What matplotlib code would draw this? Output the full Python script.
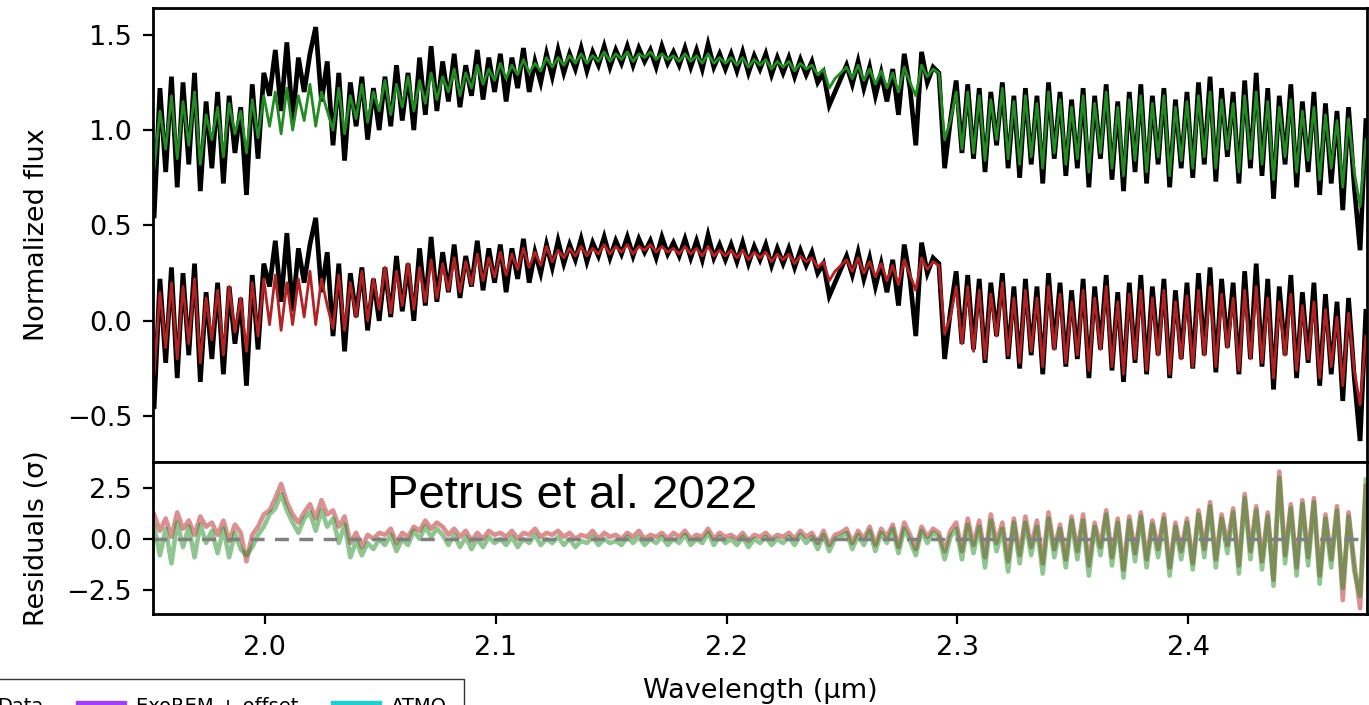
import numpy as np
import matplotlib.pyplot as plt
from matplotlib.lines import Line2D

# -------------------------
#  spectrum (grid step 0.0025 um)
# -------------------------
WAVE_MIN = 1.952
WAVE_MAX = 2.477
N_PTS = 211
OFFSET = 1.0

# observed spectrum (normalized flux)
flux_data = [
    0.55, 1.22, 0.78, 1.28, 0.70, 1.25, 0.82, 1.30, 0.68, 1.15,
    0.80, 1.20, 0.72, 1.18, 0.88, 1.12, 0.66, 1.24, 0.85, 1.30,
    1.18, 1.42, 1.10, 1.46, 1.05, 1.38, 1.20, 1.40, 1.54, 1.15,
    1.36, 0.92, 1.30, 0.84, 1.25, 1.02, 1.28, 0.95, 1.22, 1.00,
    1.28, 1.02, 1.34, 1.05, 1.30, 1.00, 1.38, 1.08, 1.44, 1.10,
    1.36, 1.15, 1.40, 1.12, 1.34, 1.18, 1.42, 1.16, 1.38, 1.20,
    1.40, 1.15, 1.38, 1.22, 1.43, 1.20, 1.36, 1.25, 1.40, 1.28,
    1.42, 1.30, 1.40, 1.32, 1.43, 1.31, 1.41, 1.34, 1.44, 1.33,
    1.42, 1.35, 1.44, 1.34, 1.43, 1.36, 1.42, 1.33, 1.44, 1.35,
    1.41, 1.34, 1.43, 1.33, 1.42, 1.32, 1.45, 1.33, 1.40, 1.32,
    1.40, 1.31, 1.41, 1.30, 1.39, 1.32, 1.40, 1.29, 1.38, 1.30,
    1.38, 1.28, 1.37, 1.29, 1.36, 1.25, 1.30, 1.13, 1.20, 1.27,
    1.34, 1.24, 1.36, 1.22, 1.33, 1.18, 1.30, 1.15, 1.32, 1.08,
    1.40, 1.22, 0.92, 1.41, 1.25, 1.33, 1.30, 0.80, 1.05, 1.26,
    0.88, 1.24, 0.85, 1.22, 0.78, 1.20, 0.92, 1.25, 0.80, 1.18,
    0.75, 1.22, 0.82, 1.18, 0.72, 1.25, 0.85, 1.20, 0.76, 1.16,
    0.80, 1.22, 0.70, 1.18, 0.85, 1.24, 0.74, 1.15, 0.68, 1.20,
    0.78, 1.24, 0.72, 1.18, 0.82, 1.22, 0.70, 1.16, 0.80, 1.20,
    0.75, 1.25, 0.82, 1.28, 0.73, 1.22, 0.86, 1.20, 0.72, 1.26,
    0.80, 1.30, 0.76, 1.22, 0.64, 1.18, 0.82, 1.24, 0.70, 1.15,
    0.78, 1.20, 0.66, 1.14, 0.72, 1.10, 0.58, 1.12, 0.70, 0.37,
    1.05,
]

# best-fit model 1 (green)
flux_green = [
    0.80, 1.10, 0.90, 1.18, 0.85, 1.15, 0.92, 1.20, 0.82, 1.08,
    0.95, 1.12, 0.86, 1.14, 0.98, 1.10, 0.88, 1.16, 0.96, 1.18,
    1.02, 1.20, 0.98, 1.22, 1.00, 1.18, 1.05, 1.24, 1.02, 1.20,
    1.10, 1.00, 1.22, 0.98, 1.18, 1.06, 1.24, 1.04, 1.20, 1.10,
    1.26, 1.08, 1.24, 1.12, 1.28, 1.10, 1.26, 1.14, 1.30, 1.16,
    1.28, 1.20, 1.32, 1.18, 1.30, 1.22, 1.34, 1.24, 1.32, 1.26,
    1.35, 1.27, 1.34, 1.29, 1.37, 1.30, 1.35, 1.31, 1.38, 1.33,
    1.38, 1.34, 1.39, 1.35, 1.40, 1.35, 1.39, 1.36, 1.41, 1.36,
    1.40, 1.37, 1.41, 1.36, 1.40, 1.38, 1.41, 1.37, 1.40, 1.37,
    1.39, 1.36, 1.40, 1.36, 1.39, 1.35, 1.40, 1.35, 1.38, 1.35,
    1.38, 1.34, 1.38, 1.33, 1.37, 1.34, 1.37, 1.32, 1.36, 1.33,
    1.36, 1.31, 1.35, 1.32, 1.34, 1.29, 1.32, 1.22, 1.27, 1.30,
    1.33, 1.27, 1.34, 1.26, 1.32, 1.24, 1.31, 1.22, 1.30, 1.20,
    1.33, 1.25, 1.18, 1.34, 1.28, 1.32, 1.30, 0.95, 1.05, 1.20,
    0.90, 1.20, 0.88, 1.18, 0.84, 1.16, 0.95, 1.22, 0.85, 1.15,
    0.82, 1.18, 0.86, 1.14, 0.80, 1.20, 0.88, 1.16, 0.82, 1.12,
    0.85, 1.18, 0.78, 1.14, 0.88, 1.20, 0.80, 1.12, 0.76, 1.16,
    0.84, 1.18, 0.78, 1.14, 0.86, 1.18, 0.76, 1.12, 0.84, 1.15,
    0.80, 1.18, 0.86, 1.20, 0.80, 1.16, 0.90, 1.14, 0.78, 1.18,
    0.85, 1.20, 0.82, 1.15, 0.74, 1.12, 0.86, 1.16, 0.78, 1.10,
    0.84, 1.12, 0.74, 1.08, 0.80, 1.05, 0.70, 1.06, 0.78, 0.60,
    0.95,
]

# best-fit model 2 (red, shown with offset)
flux_red = [
    0.72, 1.15, 0.86, 1.20, 0.80, 1.18, 0.88, 1.22, 0.78, 1.12,
    0.90, 1.16, 0.82, 1.18, 0.94, 1.12, 0.84, 1.20, 0.92, 1.22,
    0.98, 1.24, 0.95, 1.20, 0.98, 1.22, 1.02, 1.26, 0.98, 1.22,
    1.08, 0.96, 1.24, 0.95, 1.20, 1.02, 1.26, 1.00, 1.22, 1.06,
    1.28, 1.04, 1.26, 1.08, 1.30, 1.06, 1.28, 1.10, 1.32, 1.12,
    1.30, 1.16, 1.33, 1.15, 1.31, 1.19, 1.35, 1.21, 1.33, 1.23,
    1.36, 1.24, 1.35, 1.27, 1.38, 1.28, 1.36, 1.29, 1.39, 1.31,
    1.37, 1.33, 1.38, 1.34, 1.39, 1.34, 1.38, 1.35, 1.40, 1.35,
    1.39, 1.36, 1.40, 1.35, 1.39, 1.37, 1.40, 1.36, 1.39, 1.36,
    1.38, 1.35, 1.39, 1.35, 1.38, 1.34, 1.39, 1.34, 1.37, 1.34,
    1.37, 1.33, 1.37, 1.32, 1.36, 1.33, 1.36, 1.31, 1.35, 1.32,
    1.35, 1.30, 1.34, 1.31, 1.33, 1.28, 1.31, 1.21, 1.26, 1.29,
    1.32, 1.26, 1.33, 1.25, 1.31, 1.23, 1.30, 1.21, 1.29, 1.19,
    1.32, 1.24, 1.16, 1.33, 1.27, 1.31, 1.29, 0.93, 1.02, 1.18,
    0.88, 1.18, 0.84, 1.16, 0.80, 1.14, 0.92, 1.20, 0.82, 1.12,
    0.78, 1.16, 0.84, 1.12, 0.76, 1.18, 0.85, 1.14, 0.78, 1.10,
    0.82, 1.16, 0.74, 1.12, 0.85, 1.18, 0.76, 1.10, 0.72, 1.14,
    0.80, 1.16, 0.74, 1.12, 0.82, 1.16, 0.72, 1.10, 0.80, 1.13,
    0.76, 1.16, 0.82, 1.18, 0.76, 1.14, 0.86, 1.12, 0.74, 1.16,
    0.80, 1.18, 0.78, 1.12, 0.70, 1.10, 0.82, 1.14, 0.74, 1.08,
    0.80, 1.10, 0.70, 1.06, 0.76, 1.02, 0.66, 1.04, 0.74, 0.56,
    0.92,
]

# residuals in sigma
res_red = [
    1.2, 0.4, 1.0, 0.1, 1.3, 0.5, 0.9, 0.2, 1.1, 0.6,
    0.8, 0.2, 0.9, -0.1, 0.7, 0.3, -1.1, 0.2, 0.6, 1.2,
    1.4, 2.0, 2.7, 1.8, 1.2, 0.8, 1.3, 1.7, 1.0, 1.9,
    1.2, 1.4, 0.6, 1.1, -0.2, 0.3, -0.4, 0.2, 0.0, 0.3,
    0.2, 0.5, -0.2, 0.3, 0.1, 0.6, 0.4, 0.9, 0.5, 0.8,
    0.6, 0.2, 0.5, 0.1, 0.4, -0.1, 0.3, 0.0, 0.4, 0.2,
    0.3, 0.1, 0.4, 0.0, 0.3, 0.2, 0.5, 0.1, 0.3, 0.2,
    0.4, 0.1, 0.3, 0.0, 0.2, 0.1, 0.4, 0.0, 0.3, 0.1,
    0.2, 0.0, 0.3, 0.1, 0.4, 0.0, 0.2, 0.1, 0.3, 0.0,
    0.3, 0.1, 0.4, 0.0, 0.2, 0.1, 0.5, 0.0, 0.3, 0.1,
    0.2, 0.0, 0.3, -0.1, 0.2, 0.1, 0.3, 0.0, 0.2, 0.1,
    0.3, 0.0, 0.4, 0.1, 0.3, -0.2, 0.4, -0.3, 0.2, 0.3,
    0.5, -0.2, 0.4, 0.0, 0.6, -0.3, 0.5, 0.1, 0.7, -0.4,
    0.8, 0.2, -0.5, 0.6, 0.1, 0.5, 0.3, -0.6, 0.4, 0.8,
    -0.6, 1.0, -0.3, 0.9, -0.9, 1.2, -0.2, 0.8, -1.1, 1.0,
    -0.8, 1.1, -0.4, 0.9, -1.2, 1.3, -0.5, 0.7, -1.0, 1.1,
    -0.6, 1.2, -1.3, 0.8, -0.4, 1.4, -0.9, 1.0, -1.5, 1.1,
    -0.7, 1.3, -1.0, 0.9, -0.5, 1.2, -1.4, 0.8, -0.6, 1.0,
    -1.2, 1.4, -0.5, 1.8, -1.0, 1.2, -0.3, 1.5, -1.3, 2.2,
    -0.6, 1.6, -1.1, 1.3, -2.0, 3.3, -0.8, 1.7, -1.4, 1.9,
    -0.9, 2.0, -1.8, 1.2, -1.0, 1.6, -3.0, 1.3, -1.2, -3.4,
    2.6,
]

res_green = [
    0.6, -0.8, 0.5, -1.2, 0.8, -0.4, 0.6, -0.9, 0.7, -0.2,
    0.4, -0.7, 0.5, -0.9, 0.3, -0.5, -0.8, -0.4, 0.2, 0.6,
    1.2, 1.5, 2.2, 1.4, 0.8, 0.3, 1.0, 1.3, 0.4, 1.4,
    0.6, 1.0, -0.2, 0.7, -0.9, -0.1, -0.8, -0.2, -0.5, 0.0,
    -0.3, 0.2, -0.6, 0.0, -0.3, 0.4, 0.0, 0.6, 0.1, 0.5,
    0.2, -0.3, 0.2, -0.4, 0.1, -0.5, 0.0, -0.4, 0.1, -0.2,
    0.0, -0.3, 0.1, -0.4, 0.0, -0.2, 0.2, -0.3, 0.0, -0.2,
    0.1, -0.3, 0.0, -0.4, -0.1, -0.2, 0.1, -0.3, 0.0, -0.2,
    -0.1, -0.3, 0.1, -0.2, 0.1, -0.3, 0.0, -0.2, 0.1, -0.3,
    0.0, -0.2, 0.2, -0.3, 0.0, -0.2, 0.3, -0.3, 0.1, -0.2,
    0.0, -0.3, 0.1, -0.4, 0.0, -0.2, 0.1, -0.3, 0.0, -0.2,
    0.1, -0.3, 0.2, -0.2, 0.1, -0.5, 0.2, -0.6, 0.0, 0.1,
    0.3, -0.5, 0.2, -0.3, 0.4, -0.6, 0.3, -0.2, 0.5, -0.7,
    0.5, -0.1, -0.8, 0.4, -0.2, 0.3, 0.1, -1.0, 0.1, 0.5,
    -1.0, 0.7, -0.7, 0.6, -1.4, 0.9, -0.6, 0.5, -1.6, 0.8,
    -1.2, 0.8, -0.8, 0.6, -1.7, 1.0, -0.9, 0.5, -1.4, 0.9,
    -1.0, 0.9, -1.8, 0.6, -0.8, 1.2, -1.3, 0.8, -1.9, 0.9,
    -1.1, 1.1, -1.4, 0.7, -0.9, 1.0, -1.8, 0.6, -1.0, 0.8,
    -1.5, 1.2, -0.9, 1.6, -1.4, 1.0, -0.7, 1.3, -1.7, 2.0,
    -1.0, 1.4, -1.5, 1.1, -2.3, 3.0, -1.2, 1.5, -1.8, 1.7,
    -1.3, 1.8, -2.2, 1.0, -1.4, 1.4, -2.4, 1.1, -1.6, -2.8,
    2.9,
]

wave = np.linspace(WAVE_MIN, WAVE_MAX, N_PTS)
flux_data = np.array(flux_data)
flux_green = np.array(flux_green)
flux_red = np.array(flux_red)
res_red = np.array(res_red)
res_green = np.array(res_green)

# -------------------------
#  figure
# -------------------------
W, H = 1369, 705
fig = plt.figure(figsize=(W / 100, H / 100), dpi=100)

x0, x1 = 153 / W, 1367 / W
ax1 = fig.add_axes([x0, 1 - 462 / H, x1 - x0, (462 - 8) / H])
ax2 = fig.add_axes([x0, 1 - 614 / H, x1 - x0, (614 - 462) / H], sharex=ax1)

# top: spectra
ax1.plot(wave, flux_data, color="black", lw=3.4, solid_joinstyle="miter")
ax1.plot(wave, flux_green, color="forestgreen", lw=2.0)
ax1.plot(wave, flux_data - OFFSET, color="black", lw=3.4, solid_joinstyle="miter")
ax1.plot(wave, flux_red - OFFSET, color="firebrick", lw=2.0)
ax1.set_ylim(-0.74, 1.64)
ax1.set_yticks([-0.5, 0.0, 0.5, 1.0, 1.5])
ax1.set_ylabel("Normalized flux", fontsize=19.5)
ax1.tick_params(axis="x", which="both", bottom=False, labelbottom=False)

# bottom: residuals
ax2.plot(wave, res_red, color="firebrick", lw=3.3, alpha=0.5)
ax2.plot(wave, res_green, color="forestgreen", lw=3.3, alpha=0.5)
ax2.axhline(0.0, color="gray", lw=2.5, ls=(0, (4, 3)))
ax2.set_ylim(-3.68, 3.77)
ax2.set_yticks([-2.5, 0.0, 2.5])
ax2.set_xlim(1.9515, 2.4775)
ax2.set_xticks([2.0, 2.1, 2.2, 2.3, 2.4])
ax2.set_ylabel("Residuals (σ)", fontsize=19.5)
ax2.set_xlabel("Wavelength (µm)", fontsize=19.5, labelpad=12)

for ax in (ax1, ax2):
    for sp in ax.spines.values():
        sp.set_linewidth(2.0)
    ax.tick_params(labelsize=19.5, width=1.6, length=7, pad=8)
    ax.yaxis.set_label_coords(-0.085, 0.5)

fig.text(387 / W, 1 - 508 / H, "Petrus et al. 2022", fontsize=34,
         family=["Liberation Sans", "DejaVu Sans"], va="baseline", ha="left")

# legend of the figure below, cut off by the crop
handles = [
    Line2D([], [], color="black", lw=2),
    Line2D([], [], color="#a040ff", lw=6),
    Line2D([], [], color="#20d0d0", lw=6),
]
labels = ["Data", "ExoREM + offset", "ATMO"]
fig.legend(handles, labels, loc="upper right", ncol=3, fontsize=14,
           bbox_to_anchor=(464 / W, 1 - 679 / H), borderaxespad=0,
           borderpad=0.9, fancybox=False, edgecolor="#333333", framealpha=1,
           handlelength=2.2, columnspacing=1.9, handletextpad=0.65)

fig.savefig("out.png", dpi=100)
